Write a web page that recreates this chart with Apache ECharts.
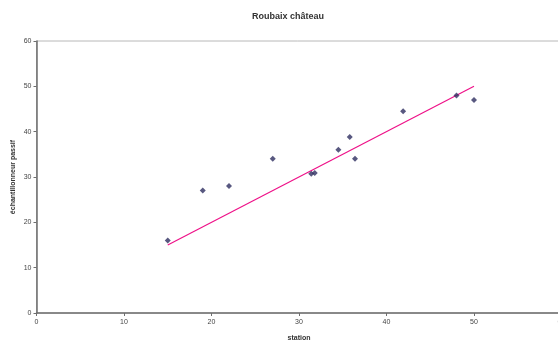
<!DOCTYPE html>
<html>
<head>
<meta charset="utf-8">
<script src="https://cdn.jsdelivr.net/npm/echarts@6/dist/echarts.min.js"></script>
<style>
  html, body { margin: 0; padding: 0; background: #fff; }
  #chart { width: 558px; height: 347px; }
</style>
</head>
<body>
<div id="chart"></div>
<script>
// mesures : station vs échantillonneur passif
const stationX = [15, 19, 22, 27, 31.4, 31.8, 34.5, 35.8, 36.4, 41.9, 48, 50];
const passifY = [16, 27, 28, 34, 30.7, 30.9, 36, 38.8, 34, 44.5, 48, 47];
// droite de référence
const trendX = [15, 50];
const trendY = [15, 50];
const axisTicks = [0, 10, 20, 30, 40, 50, 60];

const font = "Liberation Sans, Arial, sans-serif";
const points = stationX.map((x, i) => [x, passifY[i]]);
const trend = trendX.map((x, i) => [x, trendY[i]]);

const chart = echarts.init(document.getElementById("chart"));
const option = {
    animation: false,
    title: {
        text: "Roubaix château",
        left: 283,
        top: 7,
        textAlign: "center",
        textStyle: { fontSize: 9, fontWeight: "bold", color: "#333", fontFamily: font },
    },
    grid: {
        left: 36.5,
        top: 41,
        width: 525,
        height: 272,
        containLabel: false,
        outerBoundsMode: "none",
        show: true,
        borderColor: "#b8b8b8",
        borderWidth: 1,
    },
    xAxis: {
        type: "value",
        min: axisTicks[0],
        max: axisTicks[axisTicks.length - 1],
        interval: 10,
        name: "station",
        nameLocation: "middle",
        nameGap: 22,
        nameTextStyle: { fontSize: 7, fontWeight: "bold", color: "#333", fontFamily: font },
        axisLine: { lineStyle: { color: "#6e6e6e", width: 1.5 } },
        axisTick: { show: true, length: 3, lineStyle: { color: "#6e6e6e" } },
        axisLabel: { fontSize: 7, color: "#444", margin: 6, fontFamily: font, showMaxLabel: true, hideOverlap: false },
        splitLine: { show: false },
    },
    yAxis: {
        type: "value",
        min: axisTicks[0],
        max: axisTicks[axisTicks.length - 1],
        interval: 10,
        name: "échantillonneur passif",
        nameLocation: "middle",
        nameGap: 20,
        nameMoveOverlap: false,
        nameTextStyle: { fontSize: 7, fontWeight: "bold", color: "#333", fontFamily: font },
        axisLine: { lineStyle: { color: "#6e6e6e", width: 1.5 } },
        axisTick: { show: true, length: 3, lineStyle: { color: "#6e6e6e" } },
        axisLabel: { fontSize: 7, color: "#444", margin: 5, fontFamily: font },
        splitLine: { show: false },
    },
    series: [
        {
            type: "line",
            data: trend,
            symbol: "none",
            lineStyle: { color: "#ee1188", width: 1.2 },
            z: 2,
        },
        {
            type: "scatter",
            data: points,
            symbol: "diamond",
            symbolSize: 6,
            itemStyle: { color: "#2e2e60" },
            z: 3,
        },
    ],
};
chart.setOption(option);
</script>
</body>
</html>
